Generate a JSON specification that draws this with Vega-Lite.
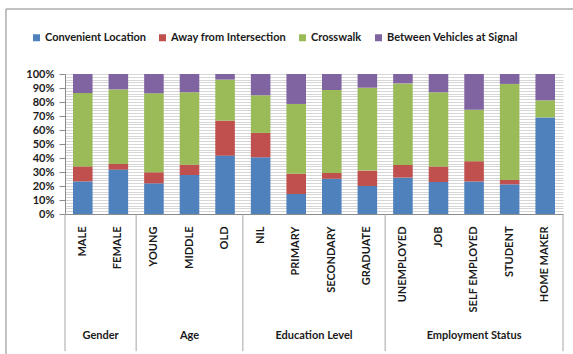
{
  "$schema": "https://vega.github.io/schema/vega-lite/v6.json",
  "autosize": {"type": "none"},
  "width": 498,
  "height": 140,
  "padding": {"left": 65, "top": 74, "right": 10, "bottom": 140},
  "background": "white",
  "config": {
    "view": {"stroke": null},
    "font": "Lato",
    "axis": {"labelFont": "Lato", "labelFontWeight": "bold", "labelFontSize": 11, "labelColor": "#1a1a1a"},
    "axisY": {"labelOverlap": false, "tickSize": 6, "labelPadding": 5, "domain": true, "domainColor": "#8c8c8c", "grid": true, "gridColor": "#d6d6d6", "gridWidth": 1, "title": null},
    "legend": {"labelFont": "Lato", "labelFontWeight": "bold", "labelFontSize": 11, "labelColor": "#1a1a1a"}
  },
  "layer": [
    {
      "data": {"values": [
        {"category": "MALE", "mode": "Convenient Location", "order": 1, "value": 0.233},
        {"category": "MALE", "mode": "Away from Intersection", "order": 2, "value": 0.107},
        {"category": "MALE", "mode": "Crosswalk", "order": 3, "value": 0.524},
        {"category": "MALE", "mode": "Between Vehicles at Signal", "order": 4, "value": 0.136},
        {"category": "FEMALE", "mode": "Convenient Location", "order": 1, "value": 0.317},
        {"category": "FEMALE", "mode": "Away from Intersection", "order": 2, "value": 0.040},
        {"category": "FEMALE", "mode": "Crosswalk", "order": 3, "value": 0.533},
        {"category": "FEMALE", "mode": "Between Vehicles at Signal", "order": 4, "value": 0.110},
        {"category": "YOUNG", "mode": "Convenient Location", "order": 1, "value": 0.219},
        {"category": "YOUNG", "mode": "Away from Intersection", "order": 2, "value": 0.079},
        {"category": "YOUNG", "mode": "Crosswalk", "order": 3, "value": 0.564},
        {"category": "YOUNG", "mode": "Between Vehicles at Signal", "order": 4, "value": 0.138},
        {"category": "MIDDLE", "mode": "Convenient Location", "order": 1, "value": 0.279},
        {"category": "MIDDLE", "mode": "Away from Intersection", "order": 2, "value": 0.073},
        {"category": "MIDDLE", "mode": "Crosswalk", "order": 3, "value": 0.517},
        {"category": "MIDDLE", "mode": "Between Vehicles at Signal", "order": 4, "value": 0.131},
        {"category": "OLD", "mode": "Convenient Location", "order": 1, "value": 0.417},
        {"category": "OLD", "mode": "Away from Intersection", "order": 2, "value": 0.250},
        {"category": "OLD", "mode": "Crosswalk", "order": 3, "value": 0.293},
        {"category": "OLD", "mode": "Between Vehicles at Signal", "order": 4, "value": 0.040},
        {"category": "NIL", "mode": "Convenient Location", "order": 1, "value": 0.405},
        {"category": "NIL", "mode": "Away from Intersection", "order": 2, "value": 0.174},
        {"category": "NIL", "mode": "Crosswalk", "order": 3, "value": 0.269},
        {"category": "NIL", "mode": "Between Vehicles at Signal", "order": 4, "value": 0.152},
        {"category": "PRIMARY", "mode": "Convenient Location", "order": 1, "value": 0.143},
        {"category": "PRIMARY", "mode": "Away from Intersection", "order": 2, "value": 0.145},
        {"category": "PRIMARY", "mode": "Crosswalk", "order": 3, "value": 0.498},
        {"category": "PRIMARY", "mode": "Between Vehicles at Signal", "order": 4, "value": 0.214},
        {"category": "SECONDARY", "mode": "Convenient Location", "order": 1, "value": 0.252},
        {"category": "SECONDARY", "mode": "Away from Intersection", "order": 2, "value": 0.041},
        {"category": "SECONDARY", "mode": "Crosswalk", "order": 3, "value": 0.593},
        {"category": "SECONDARY", "mode": "Between Vehicles at Signal", "order": 4, "value": 0.114},
        {"category": "GRADUATE", "mode": "Convenient Location", "order": 1, "value": 0.200},
        {"category": "GRADUATE", "mode": "Away from Intersection", "order": 2, "value": 0.110},
        {"category": "GRADUATE", "mode": "Crosswalk", "order": 3, "value": 0.592},
        {"category": "GRADUATE", "mode": "Between Vehicles at Signal", "order": 4, "value": 0.098},
        {"category": "UNEMPLOYED", "mode": "Convenient Location", "order": 1, "value": 0.260},
        {"category": "UNEMPLOYED", "mode": "Away from Intersection", "order": 2, "value": 0.090},
        {"category": "UNEMPLOYED", "mode": "Crosswalk", "order": 3, "value": 0.583},
        {"category": "UNEMPLOYED", "mode": "Between Vehicles at Signal", "order": 4, "value": 0.067},
        {"category": "JOB", "mode": "Convenient Location", "order": 1, "value": 0.229},
        {"category": "JOB", "mode": "Away from Intersection", "order": 2, "value": 0.111},
        {"category": "JOB", "mode": "Crosswalk", "order": 3, "value": 0.529},
        {"category": "JOB", "mode": "Between Vehicles at Signal", "order": 4, "value": 0.131},
        {"category": "SELF EMPLOYED", "mode": "Convenient Location", "order": 1, "value": 0.233},
        {"category": "SELF EMPLOYED", "mode": "Away from Intersection", "order": 2, "value": 0.143},
        {"category": "SELF EMPLOYED", "mode": "Crosswalk", "order": 3, "value": 0.369},
        {"category": "SELF EMPLOYED", "mode": "Between Vehicles at Signal", "order": 4, "value": 0.255},
        {"category": "STUDENT", "mode": "Convenient Location", "order": 1, "value": 0.212},
        {"category": "STUDENT", "mode": "Away from Intersection", "order": 2, "value": 0.031},
        {"category": "STUDENT", "mode": "Crosswalk", "order": 3, "value": 0.686},
        {"category": "STUDENT", "mode": "Between Vehicles at Signal", "order": 4, "value": 0.071},
        {"category": "HOME MAKER", "mode": "Convenient Location", "order": 1, "value": 0.690},
        {"category": "HOME MAKER", "mode": "Away from Intersection", "order": 2, "value": 0.000},
        {"category": "HOME MAKER", "mode": "Crosswalk", "order": 3, "value": 0.122},
        {"category": "HOME MAKER", "mode": "Between Vehicles at Signal", "order": 4, "value": 0.188}
      ]},
      "mark": {"type": "bar", "width": {"band": 0.55}},
      "encoding": {
        "x": {
          "field": "category", "type": "nominal", "title": null,
          "scale": {"domain": ["MALE", "FEMALE", "YOUNG", "MIDDLE", "OLD", "NIL", "PRIMARY", "SECONDARY", "GRADUATE", "UNEMPLOYED", "JOB", "SELF EMPLOYED", "STUDENT", "HOME MAKER"], "paddingInner": 0, "paddingOuter": 0},
          "axis": {"labelAngle": -90, "ticks": false, "labelPadding": 12, "domainColor": "#8c8c8c", "grid": false}
        },
        "y": {
          "field": "value", "type": "quantitative", "stack": "zero", "title": null,
          "scale": {"domain": [0, 1], "nice": false, "zero": false},
          "axis": {
            "values": [0, 0.02, 0.04, 0.06, 0.08, 0.1, 0.12, 0.14, 0.16, 0.18, 0.2, 0.22, 0.24, 0.26, 0.28, 0.3, 0.32, 0.34, 0.36, 0.38, 0.4, 0.42, 0.44, 0.46, 0.48, 0.5, 0.52, 0.54, 0.56, 0.58, 0.6, 0.62, 0.64, 0.66, 0.68, 0.7, 0.72, 0.74, 0.76, 0.78, 0.8, 0.82, 0.84, 0.86, 0.88, 0.9, 0.92, 0.94, 0.96, 0.98, 1],
            "format": ".0%",
            "labelExpr": "round(datum.value * 100) % 10 === 0 ? datum.label : ''",
            "tickColor": {"condition": {"test": "round(datum.value * 100) % 10 === 0", "value": "#8c8c8c"}, "value": "transparent"}
          }
        },
        "color": {
          "field": "mode", "type": "nominal",
          "scale": {"domain": ["Convenient Location", "Away from Intersection", "Crosswalk", "Between Vehicles at Signal"], "range": ["#4F81BD", "#C0504D", "#9BBB59", "#8064A2"]},
          "legend": {"title": null, "orient": "none", "legendX": -34, "legendY": -42, "direction": "horizontal", "symbolType": "square", "symbolSize": 49, "symbolStrokeWidth": 0, "labelOffset": 3, "columnPadding": 11}
        },
        "order": {"field": "order", "type": "quantitative"}
      }
    },
    {
      "data": {"values": [{"category": "MALE"}, {"category": "YOUNG"}, {"category": "NIL"}, {"category": "UNEMPLOYED"}]},
      "mark": {"type": "rule", "color": "#a6a6a6", "strokeWidth": 1},
      "encoding": {
        "x": {"field": "category", "type": "nominal", "bandPosition": 0},
        "y": {"datum": 0, "type": "quantitative", "axis": {
            "values": [0, 0.02, 0.04, 0.06, 0.08, 0.1, 0.12, 0.14, 0.16, 0.18, 0.2, 0.22, 0.24, 0.26, 0.28, 0.3, 0.32, 0.34, 0.36, 0.38, 0.4, 0.42, 0.44, 0.46, 0.48, 0.5, 0.52, 0.54, 0.56, 0.58, 0.6, 0.62, 0.64, 0.66, 0.68, 0.7, 0.72, 0.74, 0.76, 0.78, 0.8, 0.82, 0.84, 0.86, 0.88, 0.9, 0.92, 0.94, 0.96, 0.98, 1],
            "format": ".0%",
            "labelExpr": "round(datum.value * 100) % 10 === 0 ? datum.label : ''",
            "tickColor": {"condition": {"test": "round(datum.value * 100) % 10 === 0", "value": "#8c8c8c"}, "value": "transparent"}
          }},
        "y2": {"datum": -0.98}
      }
    },
    {
      "data": {"values": [{"category": "HOME MAKER"}]},
      "mark": {"type": "rule", "color": "#a6a6a6", "strokeWidth": 1},
      "encoding": {
        "x": {"field": "category", "type": "nominal", "bandPosition": 1},
        "y": {"datum": 0, "type": "quantitative", "axis": {
            "values": [0, 0.02, 0.04, 0.06, 0.08, 0.1, 0.12, 0.14, 0.16, 0.18, 0.2, 0.22, 0.24, 0.26, 0.28, 0.3, 0.32, 0.34, 0.36, 0.38, 0.4, 0.42, 0.44, 0.46, 0.48, 0.5, 0.52, 0.54, 0.56, 0.58, 0.6, 0.62, 0.64, 0.66, 0.68, 0.7, 0.72, 0.74, 0.76, 0.78, 0.8, 0.82, 0.84, 0.86, 0.88, 0.9, 0.92, 0.94, 0.96, 0.98, 1],
            "format": ".0%",
            "labelExpr": "round(datum.value * 100) % 10 === 0 ? datum.label : ''",
            "tickColor": {"condition": {"test": "round(datum.value * 100) % 10 === 0", "value": "#8c8c8c"}, "value": "transparent"}
          }},
        "y2": {"datum": -0.98}
      }
    },
    {
      "data": {"values": [{"category": "MALE"}]},
      "mark": {"type": "rule", "color": "#adadad", "strokeWidth": 1.5},
      "encoding": {
        "x": {"field": "category", "type": "nominal", "bandPosition": -1.66},
        "y": {"datum": 1.464, "type": "quantitative", "axis": {
            "values": [0, 0.02, 0.04, 0.06, 0.08, 0.1, 0.12, 0.14, 0.16, 0.18, 0.2, 0.22, 0.24, 0.26, 0.28, 0.3, 0.32, 0.34, 0.36, 0.38, 0.4, 0.42, 0.44, 0.46, 0.48, 0.5, 0.52, 0.54, 0.56, 0.58, 0.6, 0.62, 0.64, 0.66, 0.68, 0.7, 0.72, 0.74, 0.76, 0.78, 0.8, 0.82, 0.84, 0.86, 0.88, 0.9, 0.92, 0.94, 0.96, 0.98, 1],
            "format": ".0%",
            "labelExpr": "round(datum.value * 100) % 10 === 0 ? datum.label : ''",
            "tickColor": {"condition": {"test": "round(datum.value * 100) % 10 === 0", "value": "#8c8c8c"}, "value": "transparent"}
          }},
        "y2": {"datum": -1.02}
      }
    },
    {
      "data": {"values": [{"category": "MALE", "end": "HOME MAKER"}]},
      "mark": {"type": "rule", "color": "#adadad", "strokeWidth": 1.5},
      "encoding": {
        "x": {"field": "category", "type": "nominal", "bandPosition": -1.66},
        "x2": {"field": "end", "bandPosition": 1.5},
        "y": {"datum": 1.464, "type": "quantitative", "axis": {
            "values": [0, 0.02, 0.04, 0.06, 0.08, 0.1, 0.12, 0.14, 0.16, 0.18, 0.2, 0.22, 0.24, 0.26, 0.28, 0.3, 0.32, 0.34, 0.36, 0.38, 0.4, 0.42, 0.44, 0.46, 0.48, 0.5, 0.52, 0.54, 0.56, 0.58, 0.6, 0.62, 0.64, 0.66, 0.68, 0.7, 0.72, 0.74, 0.76, 0.78, 0.8, 0.82, 0.84, 0.86, 0.88, 0.9, 0.92, 0.94, 0.96, 0.98, 1],
            "format": ".0%",
            "labelExpr": "round(datum.value * 100) % 10 === 0 ? datum.label : ''",
            "tickColor": {"condition": {"test": "round(datum.value * 100) % 10 === 0", "value": "#8c8c8c"}, "value": "transparent"}
          }}
      }
    },
    {
      "data": {"values": [{"category": "FEMALE", "group": "Gender"}, {"category": "SECONDARY", "group": "Education Level"}]},
      "mark": {"type": "text", "font": "Lato", "fontWeight": "bold", "fontSize": 11, "color": "#1a1a1a", "baseline": "middle"},
      "encoding": {
        "x": {"field": "category", "type": "nominal", "bandPosition": 0},
        "y": {"datum": -0.87, "type": "quantitative", "axis": {
            "values": [0, 0.02, 0.04, 0.06, 0.08, 0.1, 0.12, 0.14, 0.16, 0.18, 0.2, 0.22, 0.24, 0.26, 0.28, 0.3, 0.32, 0.34, 0.36, 0.38, 0.4, 0.42, 0.44, 0.46, 0.48, 0.5, 0.52, 0.54, 0.56, 0.58, 0.6, 0.62, 0.64, 0.66, 0.68, 0.7, 0.72, 0.74, 0.76, 0.78, 0.8, 0.82, 0.84, 0.86, 0.88, 0.9, 0.92, 0.94, 0.96, 0.98, 1],
            "format": ".0%",
            "labelExpr": "round(datum.value * 100) % 10 === 0 ? datum.label : ''",
            "tickColor": {"condition": {"test": "round(datum.value * 100) % 10 === 0", "value": "#8c8c8c"}, "value": "transparent"}
          }},
        "text": {"field": "group"}
      }
    },
    {
      "data": {"values": [{"category": "MIDDLE", "group": "Age"}, {"category": "SELF EMPLOYED", "group": "Employment Status"}]},
      "mark": {"type": "text", "font": "Lato", "fontWeight": "bold", "fontSize": 11, "color": "#1a1a1a", "baseline": "middle"},
      "encoding": {
        "x": {"field": "category", "type": "nominal", "bandPosition": 0.5},
        "y": {"datum": -0.87, "type": "quantitative", "axis": {
            "values": [0, 0.02, 0.04, 0.06, 0.08, 0.1, 0.12, 0.14, 0.16, 0.18, 0.2, 0.22, 0.24, 0.26, 0.28, 0.3, 0.32, 0.34, 0.36, 0.38, 0.4, 0.42, 0.44, 0.46, 0.48, 0.5, 0.52, 0.54, 0.56, 0.58, 0.6, 0.62, 0.64, 0.66, 0.68, 0.7, 0.72, 0.74, 0.76, 0.78, 0.8, 0.82, 0.84, 0.86, 0.88, 0.9, 0.92, 0.94, 0.96, 0.98, 1],
            "format": ".0%",
            "labelExpr": "round(datum.value * 100) % 10 === 0 ? datum.label : ''",
            "tickColor": {"condition": {"test": "round(datum.value * 100) % 10 === 0", "value": "#8c8c8c"}, "value": "transparent"}
          }},
        "text": {"field": "group"}
      }
    }
  ]
}
